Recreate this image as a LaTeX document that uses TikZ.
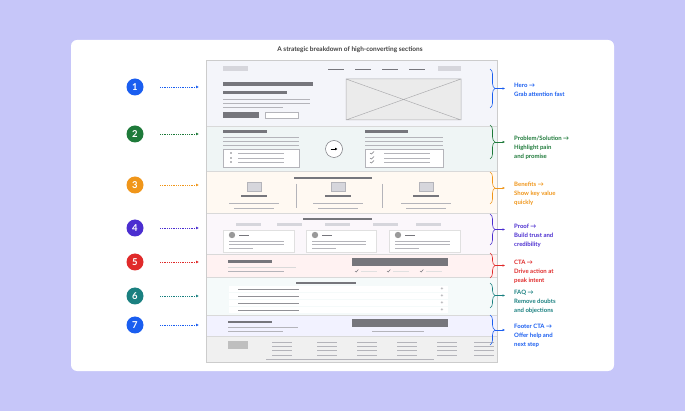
\documentclass[tikz,border=0pt]{standalone}
\usepackage{fontspec}
\setmainfont{Lato}
\usetikzlibrary{decorations.pathreplacing,arrows.meta}
\definecolor{bgc}{HTML}{C6C6F9}
\definecolor{heroc}{HTML}{F4F5FA}
\definecolor{cA}{HTML}{1A5EF0}
\definecolor{cB}{HTML}{1E7A3A}
\definecolor{cC}{HTML}{F0961A}
\definecolor{cD}{HTML}{4B2ED0}
\definecolor{cE}{HTML}{E02A2A}
\definecolor{cF}{HTML}{1A8080}
\definecolor{cG}{HTML}{1A5EF0}
\definecolor{dk}{HTML}{76767C}
\definecolor{lt}{HTML}{B4B4BA}
\definecolor{bx}{HTML}{D6D6DC}
\tikzset{
 num/.style={circle,fill=#1,text=white,minimum size=17pt,inner sep=0,font=\bfseries\fontsize{9.5}{9.5}\selectfont},
 dot/.style={#1,densely dotted,line width=0.8pt,-{Latex[length=3pt,width=3pt]}},
 brace/.style={#1,line width=0.6pt,decorate,decoration={brace,amplitude=5pt}},
 lab/.style={#1,anchor=north west,align=left,font=\bfseries\fontsize{6}{9}\selectfont,inner sep=0},
 bar/.style={fill=dk},
 ln/.style={lt,line width=0.6pt},
 thk/.style={dk,line width=1.2pt},
}
\begin{document}
\begin{tikzpicture}[x=1pt,y=-1pt]
\fill[bgc] (0,0) rectangle (685,411);
\useasboundingbox (0,0) rectangle (685,411);
\fill[white,rounded corners=6pt] (71,40) rectangle (614,371);
\node[font=\fontsize{6.5}{7}\selectfont,text=black!75] (title) at (350,50) {\textbf{A strategic breakdown of high-converting sections}};
% sections
\fill[heroc] (206,60) rectangle (497,126);
\fill[green!2!heroc] (206,126) rectangle (497,171);
\fill[orange!5] (206,171) rectangle (497,213);
\fill[violet!3] (206,213) rectangle (497,254);
\fill[red!5] (206,254) rectangle (497,277);
\fill[teal!4] (206,277) rectangle (497,315);
\fill[blue!5] (206,315) rectangle (497,336);
\fill[black!6] (206,336) rectangle (497,362);
\foreach \y in {126,171,213,254,277,315,336}\draw[black!15,line width=0.5pt](206,\y)--(497,\y);
\draw[black!20,line width=0.6pt] (206,60) rectangle (497,362);
% hero
\fill[bx] (223,66) rectangle (248,71);
\foreach \x in {328,355,382,409}\draw[thk,line width=0.6pt](\x,69)--++(16,0);
\fill[bx] (438,66) rectangle (461,71);
\fill[bar] (223,82) rectangle (313,86);
\fill[bar] (223,91) rectangle (287,94);
\draw[ln] (223,99)--(310,99); \draw[ln] (223,103)--(310,103); \draw[ln] (223,107)--(283,107);
\fill[bar] (223,112) rectangle (259,118);
\draw[lt,fill=white] (265,112) rectangle (298,118);
\draw[dk!60,fill=black!8,line width=0.5pt] (346,79) rectangle (461,120) (346,79)--(461,120) (346,120)--(461,79);
% sec2
\fill[bar] (223,130) rectangle (267,133);
\foreach \y in {137,141,145}\draw[ln](223,\y)--(299,\y);
\draw[lt,fill=white] (223,149) rectangle (299,167);
\foreach \y in {153,158,162}{\fill[dk](231,\y) circle (0.9);\draw[ln](238,\y)--(284,\y);}
\node[circle,draw=dk,fill=white,minimum size=17pt,inner sep=0,line width=0.5pt] (arr) at (334,149) {};
\draw[black,line width=0.7pt,-{Latex[length=2.5pt,width=3pt]}] ([xshift=-3.5pt]arr.center)--([xshift=3.5pt]arr.center);
\fill[bar] (365,130) rectangle (408,133);
\foreach \y in {137,141,145}\draw[ln](365,\y)--(443,\y);
\draw[lt,fill=white] (365,149) rectangle (443,167);
\foreach \y in {153,158,162}{\draw[dk,line width=0.5pt](370,\y)--(371.5,\y+1)--(374,\y-1.5);\draw[ln](384,\y)--(430,\y);}
% sec3
\fill[bar] (294,177) rectangle (372,179);
\foreach \c in {254,338,426}{
 \draw[lt,fill=bx] (\c-7,182) rectangle (\c+7,191);
 \fill[bar] (\c-13,195) rectangle (\c+13,197);
 \draw[ln] (\c-25,203)--(\c+25,203); \draw[ln] (\c-20,208)--(\c+20,208);}
\draw[ln] (296,184)--(296,208); \draw[ln] (382,184)--(382,208);
% sec4
\fill[bar] (303,218) rectangle (372,220);
\foreach \x in {236,277,325,373,416}\fill[bx] (\x,223) rectangle (\x+25,226);
\foreach \x/\w in {223/71,306/70,389/71}{
 \draw[black!12,fill=white] (\x,230) rectangle (\x+\w,252);
 \fill[black!40] (\x+9,235) circle (3.2);
 \draw[thk,line width=0.7pt] (\x+16,235)--(\x+26,235);
 \draw[ln] (\x+6,241)--(\x+\w-10,241); \draw[ln] (\x+6,244)--(\x+\w-10,244); \draw[ln] (\x+6,248)--(\x+30,248);}
% sec5
\fill[bar] (228,260) rectangle (272,263);
\draw[black!15,line width=0.6pt] (228,267)--(296,267); \draw[ln] (228,271)--(284,271);
\fill[bar] (352,258) rectangle (448,266);
\foreach \x in {355,387,420}{\draw[dk,line width=0.5pt](\x,271)--(\x+1.3,272)--(\x+3.3,269.5);\draw[black!12,line width=0.6pt](\x+6,271)--(\x+22,271);}
% sec6
\fill[bar] (296,282) rectangle (356,284);
\foreach \y in {289,296,303,310}{
 \fill[white] (229,\y-3) rectangle (448,\y+3);
 \draw[thk,line width=0.6pt,dk!80] (238,\y)--(299,\y);
 \node[inner sep=0,font=\fontsize{5}{5}\selectfont,text=dk] at (442,\y) {+};}
% sec7
\fill[bar] (228,321) rectangle (272,323);
\draw[ln] (228,327)--(298,327); \draw[ln] (228,331)--(283,331);
\fill[bar] (352,319) rectangle (448,327);
\draw[ln] (372,331)--(424,331);
% footer
\fill[black!25] (228,341) rectangle (248,349);
\foreach \x in {272,317,357,397,437,474}{
 \foreach \y in {342,346,350,355}\draw[ln] (\x,\y)--(\x+20,\y);}
\draw[ln] (266,359)--(434,359);
% numbers, arrows, braces, labels
\foreach \i/\y/\c/\ya/\yb/\t in {
 1/87/cA/69/108/{Hero →\\Grab attention fast},
 2/134/cB/125/159/{Problem/Solution →\\Highlight pain\\and promise},
 3/185/cC/172/204/{Benefits →\\Show key value\\quickly},
 4/228/cD/214/245/{Proof →\\Build trust and\\credibility},
 5/262/cE/253/278/{CTA →\\Drive action at\\peak intent},
 6/296/cF/283/308/{FAQ →\\Remove doubts\\and objections},
 7/325/cG/315/345/{Footer CTA →\\Offer help and\\next step}}{
 \node[num=\c] (n\i) at (135,\y) {\i};
 \coordinate (s\i) at (160,\y); \coordinate (e\i) at (199,\y);
 \draw[dot=\c] (s\i)--(e\i);
 \coordinate (ba\i) at (490,\ya); \coordinate (bb\i) at (490,\yb);
 \draw[brace=\c] (ba\i)--(bb\i);
 \coordinate (m\i) at (495,{(\ya+\yb)/2}); \coordinate (me\i) at (505,{(\ya+\yb)/2});
 \draw[\c,line width=0.6pt,-{Latex[length=2.5pt,width=2.5pt]}] (m\i)--(me\i);
 \node[lab=\c] (l\i) at (514,{(\ya+\yb)/2-6}) {\t};
}
\end{tikzpicture}
\end{document}
